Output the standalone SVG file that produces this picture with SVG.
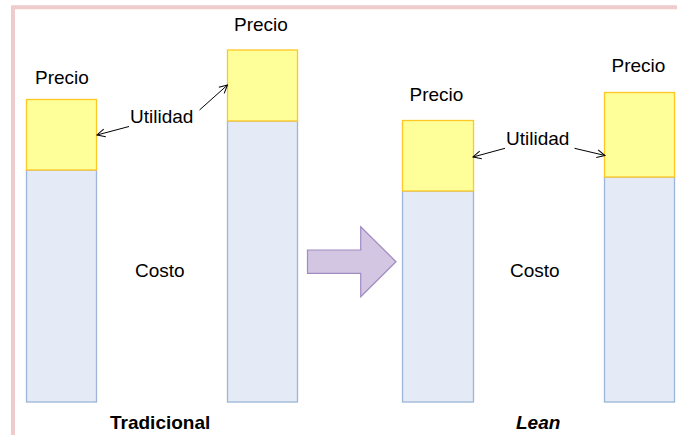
<svg xmlns="http://www.w3.org/2000/svg" width="677" height="435" viewBox="0 0 677 435">
<style>
text{font-family:"Liberation Sans",Arial,sans-serif;font-size:19px;fill:#000}
.y{fill:#FFFF99;stroke:#FFC726;stroke-width:1.3}
.b{fill:#E4EAF6;stroke:#9CB5D8;stroke-width:1.3}
.c{stroke:#000;stroke-width:1;fill:none;marker-end:url(#ah)}
.t{font-weight:bold;font-size:19px}
</style>
<defs>
<marker id="ah" markerWidth="10" markerHeight="10" refX="9" refY="5" orient="auto" markerUnits="userSpaceOnUse">
<path d="M1,1 L9,5 L1,9" fill="none" stroke="#000" stroke-width="1"/>
</marker>
</defs>
<rect width="677" height="435" fill="#fff"/>
<path d="M13,435 V7.3 H677" fill="none" stroke="#EFCBCB" stroke-width="4"/>
<g id="bar-trad-1">
<rect class="b" x="26.5" y="170" width="70" height="232"/>
<rect class="y" x="26.5" y="99.5" width="70" height="70.5"/>
<text x="35" y="84">Precio</text>
</g>
<g id="bar-trad-2">
<rect class="b" x="227.5" y="121" width="70" height="281"/>
<rect class="y" x="227.5" y="50" width="70" height="71"/>
<text x="234" y="31">Precio</text>
</g>
<g id="bar-lean-1">
<rect class="b" x="402.5" y="191" width="71" height="211"/>
<rect class="y" x="402.5" y="120.5" width="71" height="70.5"/>
<text x="409.5" y="101">Precio</text>
</g>
<g id="bar-lean-2">
<rect class="b" x="604.5" y="177" width="70" height="225"/>
<rect class="y" x="604.5" y="92.5" width="70" height="84.5"/>
<text x="611.5" y="72">Precio</text>
</g>
<g id="labels">
<text x="130" y="123">Utilidad</text>
<text x="506" y="145">Utilidad</text>
<text x="135" y="277">Costo</text>
<text x="510" y="277">Costo</text>
<text class="t" x="110" y="429">Tradicional</text>
<text class="t" x="516" y="429" font-style="italic">Lean</text>
</g>
<g id="shift-arrow">
<path d="M307.5,250 H360.7 V226.7 L396,261.7 L360.7,296.7 V273.3 H307.5 Z" fill="#D2C6E2" stroke="#A08BC2" stroke-width="1.2"/>
</g>
<g id="connectors">
<line class="c" x1="129" y1="126.5" x2="97" y2="135"/>
<line class="c" x1="199.5" y1="110" x2="227.5" y2="85"/>
<line class="c" x1="505" y1="148.3" x2="473" y2="157"/>
<line class="c" x1="574.5" y1="148.3" x2="605" y2="155.5"/>
</g>
</svg>
